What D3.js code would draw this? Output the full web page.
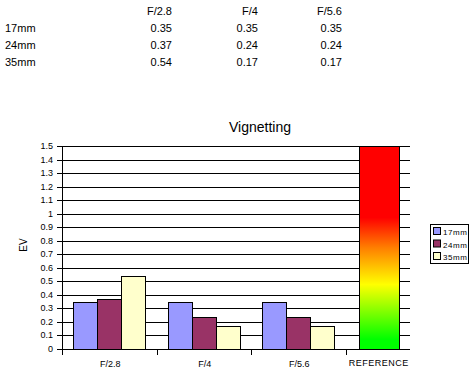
<!DOCTYPE html>
<head>
    <meta charset="utf-8">
    <script src="https://d3js.org/d3.v7.min.js"></script>
</head>
<body style="background: white; margin: 0">
    <div id="my_dataviz"></div>
    <script>
        // data
        var apertures = ["F/2.8", "F/4", "F/5.6"]
        var lenses = ["17mm", "24mm", "35mm"]
        var v17 = [0.35, 0.35, 0.35]
        var v24 = [0.37, 0.24, 0.24]
        var v35 = [0.54, 0.17, 0.17]
        var refLabel = "REFERENCE"
        var refValue = 1.5
        var yTicks = d3.range(0, 16).map(function (i) { return i / 10 })
        var colors = ["#9999FF", "#993366", "#FFFFCC"]

        var rows = [v17, v24, v35]
        var data = []
        apertures.forEach(function (a, i) {
            lenses.forEach(function (l, j) {
                data.push({ cat: a, lens: l, value: rows[j][i] })
            })
        })

        var W = 475, H = 377
        var font = "'Liberation Sans', Arial, sans-serif"

        var svg = d3.select("#my_dataviz")
            .append("svg")
            .attr("width", W)
            .attr("height", H)
            .style("display", "block")

        // ---- table at the top ----
        var colRight = [172, 258, 342]
        var rowBase = [15, 32, 49, 66]
        var table = svg.append("g").style("font-family", font).style("font-size", "11px")
        apertures.forEach(function (a, i) {
            table.append("text").attr("x", colRight[i]).attr("y", rowBase[0])
                .attr("text-anchor", "end").text(a)
        })
        lenses.forEach(function (l, j) {
            table.append("text").attr("x", 5).attr("y", rowBase[j + 1]).text(l)
            rows[j].forEach(function (v, i) {
                table.append("text").attr("x", colRight[i]).attr("y", rowBase[j + 1])
                    .attr("text-anchor", "end").text(v.toFixed(2))
            })
        })

        // ---- chart ----
        var pLeft = 62, pRight = 440, gridRight = 410, pTop = 146, pBottom = 349

        var x = d3.scaleBand()
            .domain(apertures.concat([refLabel]))
            .range([pLeft, pRight])
        var groupW = 72
        var xs = d3.scaleBand().domain(lenses).range([0, groupW])
        var y = d3.scaleLinear().domain([0, 1.5]).range([pBottom, pTop])

        svg.append("text")
            .attr("x", 260).attr("y", 132)
            .attr("text-anchor", "middle")
            .style("font-family", font).style("font-size", "14px")
            .text("Vignetting")

        // gridlines
        svg.append("g").selectAll("line")
            .data(yTicks)
            .enter().append("line")
            .attr("x1", pLeft - 5).attr("x2", gridRight)
            .attr("y1", function (d) { return Math.round(y(d)) + 0.5 })
            .attr("y2", function (d) { return Math.round(y(d)) + 0.5 })
            .attr("stroke", "black")

        svg.append("g").selectAll("text")
            .data(yTicks)
            .enter().append("text")
            .attr("x", 53)
            .attr("y", function (d) { return y(d) + 3 })
            .attr("text-anchor", "end")
            .style("font-family", font).style("font-size", "9px")
            .text(function (d) { return d })

        svg.append("text")
            .attr("transform", "translate(27,245) rotate(-90)")
            .attr("text-anchor", "middle")
            .style("font-family", font).style("font-size", "10px")
            .text("EV")

        // axis line + category ticks
        svg.append("line")
            .attr("x1", pLeft + 0.5).attr("x2", pLeft + 0.5)
            .attr("y1", pTop).attr("y2", pBottom + 6)
            .attr("stroke", "black")
        svg.append("g").selectAll("line")
            .data(x.domain().slice(1))
            .enter().append("line")
            .attr("x1", function (d) { return Math.round(x(d)) + 0.5 })
            .attr("x2", function (d) { return Math.round(x(d)) + 0.5 })
            .attr("y1", pBottom).attr("y2", pBottom + 6)
            .attr("stroke", "black")

        // bars
        svg.append("g").selectAll("rect")
            .data(data)
            .enter().append("rect")
            .attr("x", function (d) { return Math.round(x(d.cat) + (x.bandwidth() - groupW) / 2 + xs(d.lens)) + 0.5 })
            .attr("y", function (d) { return Math.round(y(d.value)) + 0.5 })
            .attr("width", xs.bandwidth())
            .attr("height", function (d) { return Math.round(y(0)) - Math.round(y(d.value)) })
            .attr("fill", function (d) { return colors[lenses.indexOf(d.lens)] })
            .attr("stroke", "black")

        // reference bar (Excel drew it a bit left of its category centre)
        var grad = svg.append("defs").append("linearGradient")
            .attr("id", "refgrad").attr("x1", 0).attr("y1", 0).attr("x2", 0).attr("y2", 1)
        var stops = [[0, "#ff0000"], [0.35, "#ff0000"], [0.5, "#ff8000"], [0.68, "#ffff00"], [0.95, "#00ff00"], [1, "#00ff00"]]
        stops.forEach(function (s) {
            grad.append("stop").attr("offset", s[0]).attr("stop-color", s[1])
        })
        var refW = 40
        var refCenter = x(refLabel) + x.bandwidth() / 2 - 14
        svg.append("rect")
            .attr("x", Math.round(refCenter - refW / 2) + 0.5)
            .attr("y", Math.round(y(refValue)) + 0.5)
            .attr("width", refW)
            .attr("height", Math.round(y(0)) - Math.round(y(refValue)))
            .attr("fill", "url(#refgrad)")
            .attr("stroke", "black")

        // category labels
        svg.append("g").selectAll("text")
            .data(apertures)
            .enter().append("text")
            .attr("x", function (d) { return x(d) + x.bandwidth() / 2 + 1 })
            .attr("y", 367)
            .attr("text-anchor", "middle")
            .style("font-family", font).style("font-size", "9px")
            .text(function (d) { return d })
        svg.append("text")
            .attr("x", refCenter).attr("y", 366)
            .attr("text-anchor", "middle")
            .style("font-family", font).style("font-size", "9px")
            .style("letter-spacing", "0.5px")
            .text(refLabel)

        // legend
        var legend = svg.append("g").attr("transform", "translate(430,224)")
        legend.append("rect")
            .attr("x", 0.5).attr("y", 0.5).attr("width", 38).attr("height", 39)
            .attr("fill", "white").attr("stroke", "black")
        lenses.forEach(function (l, j) {
            legend.append("rect")
                .attr("x", 3.5).attr("y", 3.5 + j * 12.5)
                .attr("width", 7).attr("height", 7)
                .attr("fill", colors[j]).attr("stroke", "black")
            legend.append("text")
                .attr("x", 13).attr("y", 11 + j * 12.5)
                .style("font-family", font).style("font-size", "8px")
                .style("letter-spacing", "0.6px")
                .text(l)
        })
    </script>
</body>
</html>
